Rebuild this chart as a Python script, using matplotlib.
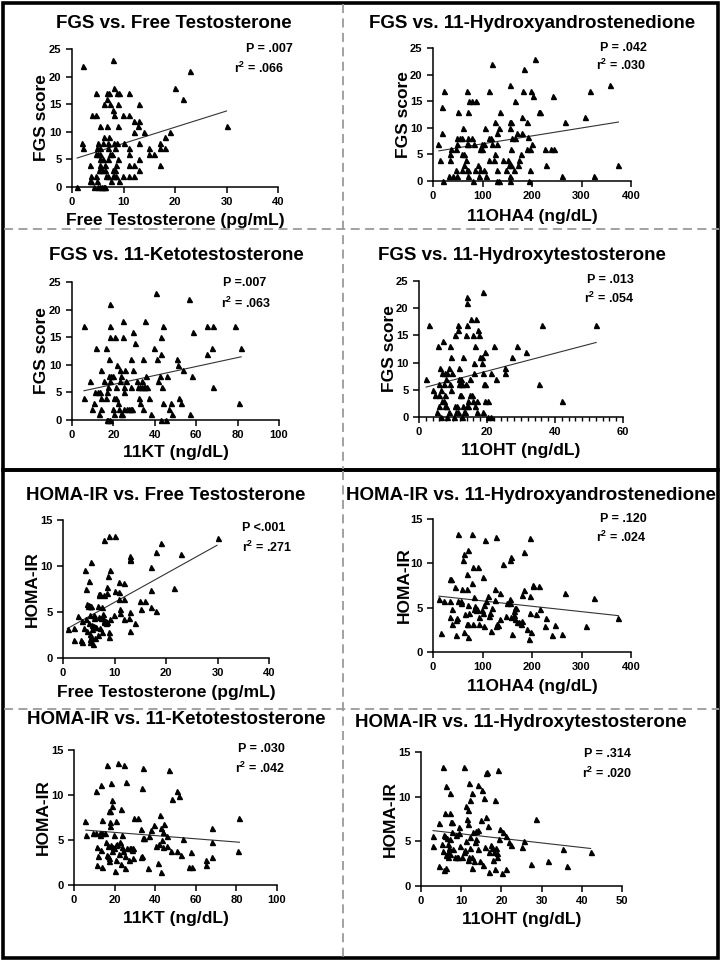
import matplotlib
matplotlib.use("Agg")
import matplotlib.pyplot as plt
from matplotlib.patches import Rectangle
from matplotlib.lines import Line2D
from matplotlib.ticker import MultipleLocator

plt.rcParams['font.family'] = ['Liberation Sans', 'DejaVu Sans']
plt.rcParams['font.weight'] = 'bold'
plt.rcParams['mathtext.fontset'] = 'custom'
plt.rcParams['mathtext.rm'] = 'Liberation Sans:bold'
plt.rcParams['mathtext.bf'] = 'Liberation Sans:bold'
plt.rcParams['mathtext.it'] = 'Liberation Sans:bold'

# ---------------- data ----------------
titles = ["FGS vs. Free Testosterone", "FGS vs. 11-Hydroxyandrostenedione",
          "FGS vs. 11-Ketotestosterone", "FGS vs. 11-Hydroxytestosterone",
          "HOMA-IR vs. Free Testosterone", "HOMA-IR vs. 11-Hydroxyandrostenedione",
          "HOMA-IR vs. 11-Ketotestosterone", "HOMA-IR vs. 11-Hydroxytestosterone"]
xlabels = ["Free Testosterone (pg/mL)", "11OHA4 (ng/dL)", "11KT (ng/dL)", "11OHT (ng/dL)",
           "Free Testosterone (pg/mL)", "11OHA4 (ng/dL)", "11KT (ng/dL)", "11OHT (ng/dL)"]
ylabels = ["FGS score"] * 4 + ["HOMA-IR"] * 4
p_texts = ["P = .007", "P = .042", "P =.007", "P = .013",
           "P <.001", "P = .120", "P = .030", "P = .314"]
r2_vals = [".066", ".030", ".063", ".054", ".271", ".024", ".042", ".020"]
x_max = [40, 400, 100, 60, 40, 400, 100, 50]
x_step = [10, 100, 20, 20, 10, 100, 20, 10]
y_max = [25, 25, 25, 25, 15, 15, 15, 15]

fit_x = [(1.0, 30.0), (12, 374.5), (5.8, 81.7), (2.1, 52.1),
         (0.84, 29.9), (12, 374.5), (5.8, 81.5), (3.0, 42.2)]
fit_y = [(5.25, 13.77), (5.67, 11.08), (5.3, 11.45), (5.5, 13.7),
         (3.2, 12.25), (6.3, 4.1), (6.1, 4.75), (6.2, 4.2)]

fgs_ft = [(1.0,0),(2.2,22),(2.0,8),(2.2,7),(7.9,23),(4.65,17),(6.85,17),(7.2,17),(8.8,17),(9.1,17),
          (11.05,17),(8.2,18),(6.85,16),(6.3,15),(7.4,15),(8.9,15),(13.05,15),(8.0,14),(3.9,13),(4.65,13),
          (8.1,13),(9.95,13),(11.0,13),(12.0,12),(13.05,12),(5.4,11),(6.85,11),(9.0,11),(12.9,11),(12.0,10),
          (14.0,10),(19.1,10),(6.3,9),(7.1,9),(18.0,9),(30.0,11),(20.0,18),(21.5,16),(22.9,21),(5.0,8),
          (6.1,8),(7.0,8),(8.2,8),(8.65,8),(10.1,8),(13.05,8),(17.0,8),(4.9,7),(5.4,7),(7.0,7),
          (8.3,7),(11.0,7),(15.0,7),(17.0,7),(18.0,7),(4.6,6),(5.0,6),(5.4,6),(7.3,6),(7.75,6),
          (11.05,6),(15.0,6),(16.0,6),(5.4,5),(6.1,5),(7.0,5),(8.85,5),(13.0,5),(3.55,4),(5.4,4),
          (6.5,4),(8.6,4),(11.05,4),(12.0,4),(17.0,4),(5.2,3),(5.4,3),(5.8,3),(6.5,3),(7.9,3),
          (8.3,3),(13.05,3),(3.7,2),(4.6,2),(6.6,2),(7.0,2),(7.9,2),(8.2,2),(8.5,2),(9.95,2),
          (11.05,2),(12.0,2),(3.4,1),(3.7,1),(4.8,1),(7.6,1),(9.2,1),(4.3,0),(5.0,0),(5.4,0),
          (5.8,0),(6.2,0),(6.5,0)]

fgs_11oha4 = [(10.7,7),(13.4,4),(17.4,9),(22.1,17),(18.8,14),(33.6,4),(33.6,5),(36.9,6),(32.2,1),(40.9,1),
              (20.5,0),(45.6,2),(47.7,1),(50.3,13),(49,8),(45.6,6),(47.7,7),(53.7,8),(58.4,8),(60.4,10),
              (57.7,5),(62.4,5),(62.4,3),(58.4,2),(65.8,4),(67.8,7),(69.1,17),(70.5,13),(72.5,15),(78.5,15),
              (87.2,15),(69.8,8),(70.5,7),(67.8,2),(71.1,2),(69.8,1),(79.2,8),(83.2,7),(79.9,0),(84.6,2),
              (91.3,3),(92.6,1),(94,6),(94,2),(99.3,7),(103.4,7),(104,2),(104.7,10),(98,6),(108,1),
              (112.8,17),(112.8,8),(117.4,8),(113.4,4),(118.8,22),(118.8,7),(124.2,4),(125.5,11),(126.2,5),(128.9,9),
              (129.5,7),(129.5,0),(133.6,0),(134.9,13),(132.9,10),(128.9,2),(142.3,4),(151,4),(147.7,2),(153,3),
              (155,1),(155.7,0),(155.7,11),(158.4,11),(155.7,18),(156.4,10),(157,6),(158.4,3),(160.4,8),(165.8,8),
              (163.8,2),(165,15),(171,3),(169.8,9),(173.8,4),(178.5,5),(180,12),(180,9),(182.6,17),(184.6,21),
              (189,11),(190.6,6),(191.3,8.3),(193,0),(195.3,2),(196.6,6),(198,17),(200.7,7),(201.3,16),(206,23),
              (214,13),(216.8,13),(225.5,6),(228,3),(239,6),(244.3,6),(242.3,16),(260.4,1),(265.8,11),(307.4,12),
              (318,17),(324.8,1),(357,18),(374,3)]

fgs_11kt = [(5.8,17),(5.6,4),(8.8,7),(9.6,2),(10.5,3),(11.7,13),(11.1,5),(12.7,5),(13.3,5),(13.0,1),
            (13.8,9),(13.8,4),(14.0,2),(15.6,7),(16.2,13),(16.7,0),(17.4,0),(18.3,0),(16.4,4),(16.9,5),
            (17.2,6),(17.7,11),(17.8,8),(18.2,21),(18.2,15),(18.2,17),(18.3,7),(18.8,8),(19.8,8),(19.9,2),
            (20.1,4),(21.1,4),(20.4,1),(20.9,15),(21.1,6),(21.5,10),(22.2,3),(22.5,2),(23.0,9),(23.6,8),
            (23.5,1),(24.3,1),(23.3,7),(24.6,18),(24.6,15),(24.9,6),(24.9,5),(25.1,2),(25.7,9),(25.9,7),
            (26.8,2),(27.7,2),(28.3,2),(29.1,2),(28.6,6),(28.6,11),(29.3,9),(29.6,16),(30.4,14),(31.4,7),
            (31.8,6),(32.5,4),(33.0,3),(33.0,6),(33.6,6),(34.6,6),(35.5,6),(36.3,6),(33.6,7),(34.1,2),
            (34.2,11),(35.4,18),(35.9,8),(37.0,4),(38.1,1),(39.5,13),(40.8,23),(41.2,11),(43.0,12),(41.6,7),
            (42.4,8),(42.8,0),(43.2,15),(43.6,6),(44.2,17),(44.2,3),(45.3,0),(46.1,8),(46.8,2),(47.7,3),
            (48.4,1),(50.6,11),(51.0,10),(51.6,4),(52.6,3),(53.5,9),(56.3,22),(56.8,1),(58.5,16),(58.0,8),
            (65.1,17),(65.4,12),(67.8,13),(68.2,17),(68.3,6),(78.9,17),(80.9,3),(81.5,13)]

fgs_11oht = [(2.1,7),(3.0,17),(4.2,5),(4.6,4),(5.4,1),(5.5,13),(5.8,6),(5.8,4),(6.0,2),(6.3,9),
             (6.4,5),(6.5,0),(6.7,8),(6.9,3),(6.97,14),(7.3,6),(7.5,8),(8.2,8),(7.4,3),(7.7,4),
             (7.6,2),(8.0,2),(7.9,7),(8.2,0),(8.8,1),(9.0,13),(8.9,9),(9.1,6),(9.4,11),(9.6,8),
             (9.5,5),(10.3,0),(10.5,2),(11.2,2),(10.7,15),(10.9,1),(11.4,1),(11.4,17),(11.5,16),(11.7,7),
             (11.7,9),(11.9,6),(12.3,6),(12.7,6),(12.2,4),(12.4,4),(12.4,7),(12.9,11),(12.8,2),(12.6,0),
             (13.1,1),(13.5,1),(13.7,15),(13.9,6),(14.1,22),(14.2,21),(14.1,17),(14.0,2),(14.5,2),(14.5,3),
             (14.9,4),(15.7,4),(15.1,7),(15.3,18),(15.8,15),(15.8,3),(16.1,10),(16.3,8),(16.5,13),(16.5,2),
             (16.8,18),(17.0,3),(17.1,1),(17.4,16),(17.6,15),(17.8,11),(18.7,23),(18.7,1),(18.6,11),(18.5,10),
             (18.9,8),(19.1,6),(19.4,12),(19.3,3),(20.2,3),(19.5,6),(20.4,0),(21.2,0),(21.2,8),(22.1,13),
             (22.6,7),(25.3,9),(25.3,8),(27.3,11),(28.8,13),(31.6,12),(35.4,6),(36.3,17),(42.2,3),(52.1,17)]

homa_ft = [(1.0,3.2),(2.1,2.0),(2.1,3.3),(3.0,4.6),(3.4,2.0),(3.6,1.7),(3.6,4.0),(4.0,3.3),(4.3,9.6),(4.5,4.2),
           (4.5,7.5),(4.6,2.9),(4.7,5.9),(4.9,5.7),(5.1,5.8),(5.2,5.6),(5.3,5.7),(5.5,5.7),(5.0,8.4),(5.1,3.8),
           (5.2,4.7),(5.2,2.6),(5.3,2.1),(5.3,1.7),(5.4,2.3),(5.5,10.4),(5.6,3.6),(5.6,3.2),(5.8,1.5),(6.0,4.4),
           (6.0,4.7),(6.1,3.5),(6.3,3.4),(6.3,2.2),(6.5,3.4),(6.7,5.7),(6.7,2.5),(6.9,6.8),(6.9,7.0),(7.0,4.5),
           (7.1,7.0),(7.2,3.3),(7.4,4.4),(7.5,2.8),(7.6,5.5),(7.8,4.8),(7.8,4.4),(7.9,4.0),(8.0,12.8),(8.0,6.8),
           (8.0,3.9),(8.3,3.8),(8.4,4.0),(8.5,3.9),(8.5,7.7),(8.5,7.1),(8.8,8.9),(8.9,13.3),(8.9,2.8),(9.0,2.3),
           (9.2,9.6),(9.1,4.2),(9.9,4.7),(10.0,7.3),(10.0,13.3),(10.8,8.3),(10.9,7.2),(10.9,6.4),(11.0,5.3),(11.0,4.9),
           (11.9,8.2),(11.9,6.4),(11.9,4.2),(13.0,2.9),(12.9,4.4),(13.0,5.0),(13.0,11.1),(13.0,10.8),(13.0,10.6),(13.9,3.8),
           (15.0,6.2),(15.1,5.3),(16.0,6.2),(17.0,7.4),(17.0,9.9),(17.0,5.5),(18.0,11.5),(18.0,5.1),(19.0,12.5),(21.6,7.6),
           (22.9,11.3),(30.0,13.0)]

homa_11oha4 = [(12.8,6.0),(16.8,2.1),(22.1,5.7),(33.6,5.7),(33.6,4.0),(34.9,8.2),(36.2,8.2),(38.3,4.8),(38.9,3.2),(44.3,7.3),
               (46.3,3.6),(46.9,1.9),(47.7,3.8),(50.3,13.3),(50.3,5.7),(56.4,5.7),(56.4,5.5),(57.7,7.1),(61.1,10.4),(62.4,11.1),
               (62.4,2.2),(63.8,4.3),(67.8,7.1),(68.5,8.8),(69.8,11.5),(67.8,3.2),(71.1,3.2),(70.5,1.7),(71.1,5.3),(73.2,4.4),
               (78.5,13.3),(79.2,7.8),(79.9,9.6),(81.2,3.2),(83.2,6.2),(83.2,4.8),(85.2,5.2),(86.6,4.7),(89.3,4.9),(91.3,9.6),
               (93.3,4.0),(93.3,3.2),(98,4.7),(100.7,4.4),(102,8.5),(102.7,5.3),(103.4,2.9),(104.7,12.6),(108,5.7),(112,6.3),
               (112.8,4.1),(115.4,4.4),(118,2.4),(120,5.0),(124.8,7.1),(124.8,5.9),(126.8,13.0),(128,2.9),(131,3.0),(129.5,3.2),
               (134.9,6.7),(134.9,3.7),(141.6,9.9),(147.7,4.1),(150.3,5.5),(155,5.5),(156.4,6.0),(155.7,10.4),(157,10.7),(158.4,4.0),
               (160.4,2.0),(163.1,4.2),(163.8,4.6),(165.1,3.7),(165.8,5.0),(168.5,5.0),(170.5,3.4),(174.5,3.4),(178.5,3.2),(179.2,3.5),
               (180,6.4),(184.6,7.0),(184.6,11.3),(189.3,2.6),(194,1.5),(195.3,4.4),(196.6,6.3),(196.6,12.9),(198.7,2.2),(201.3,7.4),
               (202,7.6),(207.4,4.3),(214.8,7.5),(216.8,4.9),(228.9,3.8),(225.5,2.9),(239.6,1.9),(245.6,3.1),(261,2.0),(265.8,6.7),
               (308.7,2.9),(324.8,6.1),(374.5,3.8)]

homa_11kt = [(5.6,7.1),(5.8,5.6),(9.6,5.8),(10.6,10.4),(10.9,5.8),(11.2,4.2),(11.4,2.2),(11.7,3.2),(12.7,5.6),(12.8,5.8),
             (13.2,3.9),(13.4,11.1),(13.6,7.2),(13.9,2.0),(13.9,5.8),(15.5,5.8),(16.0,4.8),(16.1,13.3),(16.1,3.3),(16.6,4.3),
             (16.6,3.2),(17.1,3.0),(17.3,2.7),(17.3,8.2),(17.5,7.0),(17.6,8.2),(17.8,6.6),(18.1,11.3),(18.3,4.5),(18.5,8.8),
             (18.6,3.8),(18.9,9.5),(19.3,4.2),(19.6,5.6),(19.9,4.1),(20.4,1.6),(20.8,4.5),(20.9,7.1),(20.8,2.8),(21.4,4.6),
             (21.7,13.6),(22.2,3.5),(22.7,4.8),(23.1,8.4),(23.2,2.3),(23.6,4.2),(23.7,5.6),(24.1,3.8),(24.7,13.3),(24.9,1.9),
             (25.0,3.2),(25.7,11.5),(25.9,4.1),(27.2,2.8),(27.7,4.1),(28.2,4.1),(29.0,4.1),(28.7,3.9),(29.0,3.0),(29.5,7.5),
             (31.6,7.4),(33.0,3.1),(33.2,6.2),(33.4,10.8),(33.6,3.2),(34.1,13.0),(33.8,5.2),(34.4,5.2),(36.4,1.9),(36.9,5.4),
             (38.1,6.1),(39.6,6.7),(40.5,4.3),(41.2,2.5),(41.7,4.6),(42.5,7.8),(42.7,1.4),(42.8,6.3),(43.3,5.0),(44.0,5.9),
             (44.0,4.2),(44.3,6.8),(45.6,5.5),(45.8,4.3),(46.6,12.8),(47.6,3.8),(48.4,9.6),(50.6,10.5),(51.6,9.9),(50.6,3.8),
             (52.6,3.3),(53.5,5.1),(56.5,2.0),(58.3,2.0),(57.8,3.7),(65.2,2.8),(65.2,2.2),(68.0,6.3),(67.9,4.8),(68.2,3.1),
             (80.7,3.8),(81.5,7.5)]

homa_11oht = [(3.0,5.6),(3.1,4.5),(4.4,2.2),(4.6,7.1),(5.3,4.7),(5.5,3.9),(5.5,13.3),(5.8,5.7),(5.8,1.8),(6.0,8.2),
              (6.0,5.6),(6.1,2.0),(6.2,11.2),(6.3,3.5),(6.5,5.4),(6.6,3.8),(6.7,4.7),(6.8,3.2),(7.0,4.3),(7.1,3.6),
              (7.1,5.3),(7.3,10.4),(7.3,8.2),(7.5,7.2),(7.8,7.2),(7.8,6.0),(7.9,4.1),(8.4,3.2),(8.6,5.7),(8.9,3.2),
              (9.2,3.2),(9.4,6.6),(9.4,5.9),(9.6,4.5),(10.3,3.2),(10.7,13.3),(10.7,3.8),(11.0,4.0),(11.2,5.0),(11.3,8.9),
              (11.4,7.5),(11.6,6.9),(11.8,8.5),(11.8,2.9),(11.9,11.5),(12.0,3.2),(12.2,4.2),(12.3,5.5),(12.3,9.6),(12.6,3.2),
              (12.7,2.0),(12.8,10.4),(12.9,6.0),(13.3,2.8),(13.5,4.9),(13.6,6.2),(13.8,5.3),(14.1,6.3),(14.2,4.1),(14.2,11.3),
              (14.7,2.8),(14.9,7.4),(15.1,10.8),(15.3,2.4),(15.6,9.9),(15.9,4.4),(16.1,12.6),(16.2,7.7),(16.4,12.8),(16.6,6.7),
              (16.8,3.8),(17.0,1.6),(17.5,4.6),(17.7,4.2),(17.8,2.9),(18.2,3.8),(18.5,9.6),(18.5,1.9),(18.7,4.3),(18.8,3.7),
              (19.0,3.3),(19.1,13.0),(19.5,5.3),(19.6,6.4),(20.2,1.4),(20.3,6.0),(21.2,1.9),(21.1,5.6),(21.9,4.9),(22.5,4.6),
              (25.2,4.4),(25.5,5.0),(27.4,2.5),(28.7,7.5),(31.7,2.8),(35.3,4.1),(36.3,2.2),(42.2,3.8)]

datasets = [fgs_ft, fgs_11oha4, fgs_11kt, fgs_11oht, homa_ft, homa_11oha4, homa_11kt, homa_11oht]

# ---------------- layout (pixels) ----------------
W, H = 724, 963
fig = plt.figure(figsize=(W / 100, H / 100), dpi=100)
fig.patch.set_facecolor('white')

def fx(px):
    return px / W

def fy(py):
    return 1 - py / H

# axes boxes: left, right, top, bottom (pixels)
boxes = [(72, 278, 49, 187), (433, 631, 48, 181),
         (72, 279, 282, 420), (419, 623, 281, 417),
         (63, 269, 520, 658), (433, 631, 519, 652),
         (74, 277, 750, 885), (421, 622, 752, 886)]
title_pos = [(174, 24), (532, 24), (176, 256), (522, 256),
             (166, 495), (531, 495), (176, 720), (521, 722)]
ylabel_x = [42, 404, 42, 389, 32, 404, 43, 390]
xlabel_y = [220, 217, 453, 450, 692, 687, 918, 919]
p_pos = [(269, 49), (623, 48), (245, 283), (610, 280),
         (264, 528), (623, 519), (261, 749), (607, 754)]
r_pos = [(259, 68), (621, 65), (246, 303), (609, 298),
         (267, 547), (621, 537), (260, 768), (607, 773)]

for i in range(8):
    l, r, t, b = boxes[i]
    ax = fig.add_axes([fx(l), fy(b), fx(r) - fx(l), fy(t) - fy(b)])
    xs = [p[0] for p in datasets[i]]
    ys = [p[1] for p in datasets[i]]
    ax.plot(xs, ys, linestyle='none', marker='^', markersize=3.6,
            color='black', clip_on=False, zorder=3)
    ax.plot(fit_x[i], fit_y[i], color='#333333', linewidth=0.8, zorder=2)
    ax.set_xlim(0, x_max[i])
    ax.set_ylim(0, y_max[i])
    ax.xaxis.set_major_locator(MultipleLocator(x_step[i]))
    ax.yaxis.set_major_locator(MultipleLocator(5))
    if i == 3:
        ax.xaxis.set_minor_locator(MultipleLocator(2))
        ax.tick_params(axis='x', which='minor', length=3, width=1)
    ax.spines['top'].set_visible(False)
    ax.spines['right'].set_visible(False)
    for s in ('left', 'bottom'):
        ax.spines[s].set_linewidth(1.1)
    ax.tick_params(axis='both', which='major', length=4.5, width=1.1,
                   labelsize=8, pad=3)
    for lab in ax.get_xticklabels() + ax.get_yticklabels():
        lab.set_fontweight('bold')
    ax.patch.set_alpha(0)

    fig.text(fx(title_pos[i][0]), fy(title_pos[i][1]), titles[i],
             ha='center', va='center', fontsize=13.5, fontweight='bold')
    fig.text(fx(ylabel_x[i]), fy((t + b) / 2), ylabels[i], rotation=90,
             ha='center', va='center', fontsize=12.5, fontweight='bold')
    fig.text(fx((l + r) / 2), fy(xlabel_y[i]), xlabels[i],
             ha='center', va='center', fontsize=12.5, fontweight='bold')
    fig.text(fx(p_pos[i][0]), fy(p_pos[i][1]), p_texts[i],
             ha='center', va='center', fontsize=9, fontweight='bold')
    fig.text(fx(r_pos[i][0]), fy(r_pos[i][1]), r'r$^\mathbf{2}$ = ' + r2_vals[i],
             ha='center', va='center', fontsize=9, fontweight='bold')

# ---------------- frames and dividers ----------------
dash_kw = dict(color='#9a9a9a', linewidth=1.3, linestyle=(0, (5, 3)),
               transform=fig.transFigure)
fig.add_artist(Line2D([fx(343), fx(343)], [fy(4), fy(469)], **dash_kw))
fig.add_artist(Line2D([fx(4), fx(719)], [fy(229), fy(229)], **dash_kw))
fig.add_artist(Line2D([fx(343), fx(343)], [fy(471), fy(958)], **dash_kw))
fig.add_artist(Line2D([fx(4), fx(719)], [fy(709), fy(709)], **dash_kw))

for (y0, y1) in [(3, 470), (470, 958)]:
    fig.add_artist(Rectangle((fx(3), fy(y1)), fx(718) - fx(3), fy(y0) - fy(y1),
                             fill=False, edgecolor='black', linewidth=2.6,
                             transform=fig.transFigure))

fig.savefig('out.png', dpi=100)
